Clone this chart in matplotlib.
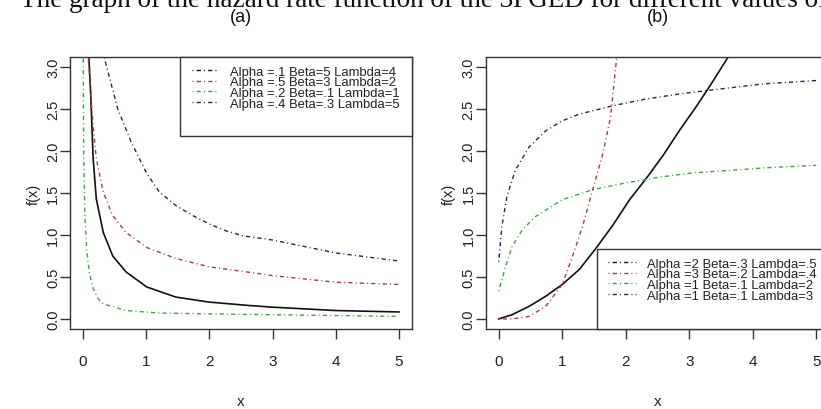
import matplotlib
matplotlib.use("Agg")
import matplotlib.pyplot as plt
from matplotlib.lines import Line2D
from matplotlib.patches import Rectangle

# ---------------- data ----------------
labels_a = ["Alpha =.1 Beta=5 Lambda=4", "Alpha =.5 Beta=3 Lambda=2",
            "Alpha =.2 Beta=.1 Lambda=1", "Alpha =.4 Beta=.3 Lambda=5"]
labels_b = ["Alpha =2 Beta=.3 Lambda=.5", "Alpha =3 Beta=.2 Lambda=.4",
            "Alpha =1 Beta=.1 Lambda=2", "Alpha =1 Beta=.1 Lambda=3"]

# panel (a)
black_a_x = [0.09, 0.12, 0.13, 0.16, 0.21, 0.32, 0.47, 0.68, 1.01, 1.47, 2.0, 2.63, 3.0, 4.0, 5.0]
black_a_y = [3.15, 2.70, 2.50, 1.91, 1.43, 1.03, 0.75, 0.56, 0.38, 0.26, 0.20, 0.16, 0.14, 0.10, 0.083]
red_a_x = [0.08, 0.12, 0.16, 0.21, 0.32, 0.47, 0.68, 1.01, 1.47, 2.0, 2.63, 3.0, 4.0, 5.0]
red_a_y = [3.15, 2.70, 2.30, 1.91, 1.51, 1.23, 1.03, 0.85, 0.72, 0.62, 0.556, 0.516, 0.437, 0.41]
green_a_x = [0.003, 0.01, 0.03, 0.06, 0.10, 0.16, 0.24, 0.32, 0.68, 1.21, 2.0, 3.0, 4.0, 5.0]
green_a_y = [3.15, 2.00, 1.20, 0.80, 0.55, 0.36, 0.24, 0.18, 0.10, 0.07, 0.06, 0.05, 0.04, 0.03]
navy_a_x = [0.32, 0.34, 0.55, 0.76, 1.01, 1.21, 1.47, 1.74, 2.0, 2.26, 2.53, 3.0, 4.0, 5.0]
navy_a_y = [3.25, 3.10, 2.50, 2.11, 1.73, 1.51, 1.35, 1.23, 1.13, 1.05, 0.99, 0.94, 0.786, 0.69]

# panel (b)
black_b_x = [0.0, 0.21, 0.48, 0.74, 1.0, 1.27, 1.53, 1.80, 2.06, 2.32, 2.59, 2.85, 3.12, 3.38, 3.62]
black_b_y = [0.0, 0.05, 0.15, 0.27, 0.41, 0.59, 0.84, 1.12, 1.42, 1.67, 1.95, 2.25, 2.54, 2.84, 3.13]
red_b_x = [0.0, 0.21, 0.48, 0.74, 1.0, 1.16, 1.32, 1.48, 1.64, 1.76, 1.86]
red_b_y = [0.0, 0.0, 0.03, 0.15, 0.41, 0.74, 1.10, 1.54, 1.97, 2.40, 3.13]
green_b_x = [0.0, 0.11, 0.21, 0.37, 0.58, 1.0, 1.48, 2.0, 2.54, 3.06, 3.64, 4.2, 5.0]
green_b_y = [0.33, 0.63, 0.86, 1.06, 1.22, 1.42, 1.54, 1.62, 1.69, 1.74, 1.77, 1.80, 1.83]
navy_b_x = [0.0, 0.05, 0.13, 0.26, 0.48, 0.74, 1.0, 1.27, 1.80, 2.32, 2.85, 3.38, 4.17, 5.0]
navy_b_y = [0.68, 1.10, 1.46, 1.77, 2.05, 2.24, 2.36, 2.44, 2.54, 2.62, 2.68, 2.73, 2.80, 2.84]

x_ticks = [0, 1, 2, 3, 4, 5]
y_ticks = [0.0, 0.5, 1.0, 1.5, 2.0, 2.5, 3.0]
y_ticklabels = ["0.0", "0.5", "1.0", "1.5", "2.0", "2.5", "3.0"]

caption = "The graph of the hazard rate function of the 3PGED for different values of"

# ---------------- style ----------------
SANS = ["Liberation Sans", "DejaVu Sans"]
plt.rcParams["font.family"] = SANS
C_BLACK = "#111111"
C_RED = "#b03a3a"
C_GREEN = "#3aa83a"
C_NAVY = "#23235e"
DOTDASH = (0, (0.75, 2.25, 3.0, 2.25))
AXC = "#333333"

W, H = 821, 410
fig = plt.figure(figsize=(W / 100, H / 100), dpi=100)


def px_axes(l, t, r, b):
    return fig.add_axes([l / W, 1 - b / H, (r - l) / W, (b - t) / H])


def style(ax, title):
    ax.set_xlim(-0.2, 5.2)
    ax.set_ylim(-0.12, 3.12)
    for s in ax.spines.values():
        s.set_color(AXC)
        s.set_linewidth(1.0)
    ax.set_xticks(x_ticks)
    ax.set_yticks(y_ticks)
    ax.set_yticklabels(y_ticklabels, rotation=90, va="center")
    ax.tick_params(axis="both", colors=AXC, labelcolor="#222222", length=7, width=1.0)
    ax.tick_params(axis="x", pad=11, labelsize=11)
    ax.tick_params(axis="y", pad=0.5, labelsize=10.5)
    ax.set_xlabel("x", fontsize=11, color="#222222", labelpad=19)
    ax.set_ylabel("f(x)", fontsize=10.5, color="#222222", labelpad=4)
    ax.set_title(title, fontsize=13, color="#111111", pad=26)


def legend(ax, labels, colors, box, anchor):
    # box: (x0, y0, w, h) in axes fraction
    ax.add_patch(Rectangle(box[:2], box[2], box[3], transform=ax.transAxes,
                           facecolor="white", edgecolor=AXC, lw=1.0, zorder=5,
                           clip_on=False))
    handles = [Line2D([], [], color=c, lw=1.0, linestyle=DOTDASH) for c in colors]
    lg = ax.legend(handles, labels, loc="upper left", bbox_to_anchor=anchor,
                   frameon=False, fontsize=9.4, handlelength=2.1,
                   handletextpad=0.85, labelspacing=-0.12, borderpad=0,
                   borderaxespad=0)
    lg.set_zorder(6)
    for t in lg.get_texts():
        t.set_color("#222222")


# panel (a)
axa = px_axes(70.4, 58, 411.6, 330)
axa.plot(black_a_x, black_a_y, color=C_BLACK, lw=1.2)
axa.plot(red_a_x, red_a_y, color=C_RED, lw=1.0, linestyle=DOTDASH)
axa.plot(green_a_x, green_a_y, color=C_GREEN, lw=1.0, linestyle=DOTDASH)
axa.plot(navy_a_x, navy_a_y, color=C_NAVY, lw=1.0, linestyle=DOTDASH)
style(axa, "(a)")
legend(axa, labels_a, [C_BLACK, C_RED, C_GREEN, C_NAVY],
       (0.321, 0.710, 0.679, 0.29), (0.356, 0.968))

# panel (b)
axb = px_axes(486, 58, 829, 330)
axb.plot(black_b_x, black_b_y, color=C_BLACK, lw=1.2)
axb.plot(red_b_x, red_b_y, color=C_RED, lw=1.0, linestyle=DOTDASH)
axb.plot(green_b_x, green_b_y, color=C_GREEN, lw=1.0, linestyle=DOTDASH)
axb.plot(navy_b_x, navy_b_y, color=C_NAVY, lw=1.0, linestyle=DOTDASH)
style(axb, "(b)")
legend(axb, labels_b, [C_BLACK, C_RED, C_GREEN, C_NAVY],
       (0.324, 0.0, 0.676, 0.294), (0.356, 0.262))

fig.text(20 / W, 1 - 7 / H, caption, family=["Liberation Serif", "DejaVu Serif"],
         fontsize=19.5, va="baseline", ha="left", color="#111111")

fig.savefig("out.png", dpi=100)
